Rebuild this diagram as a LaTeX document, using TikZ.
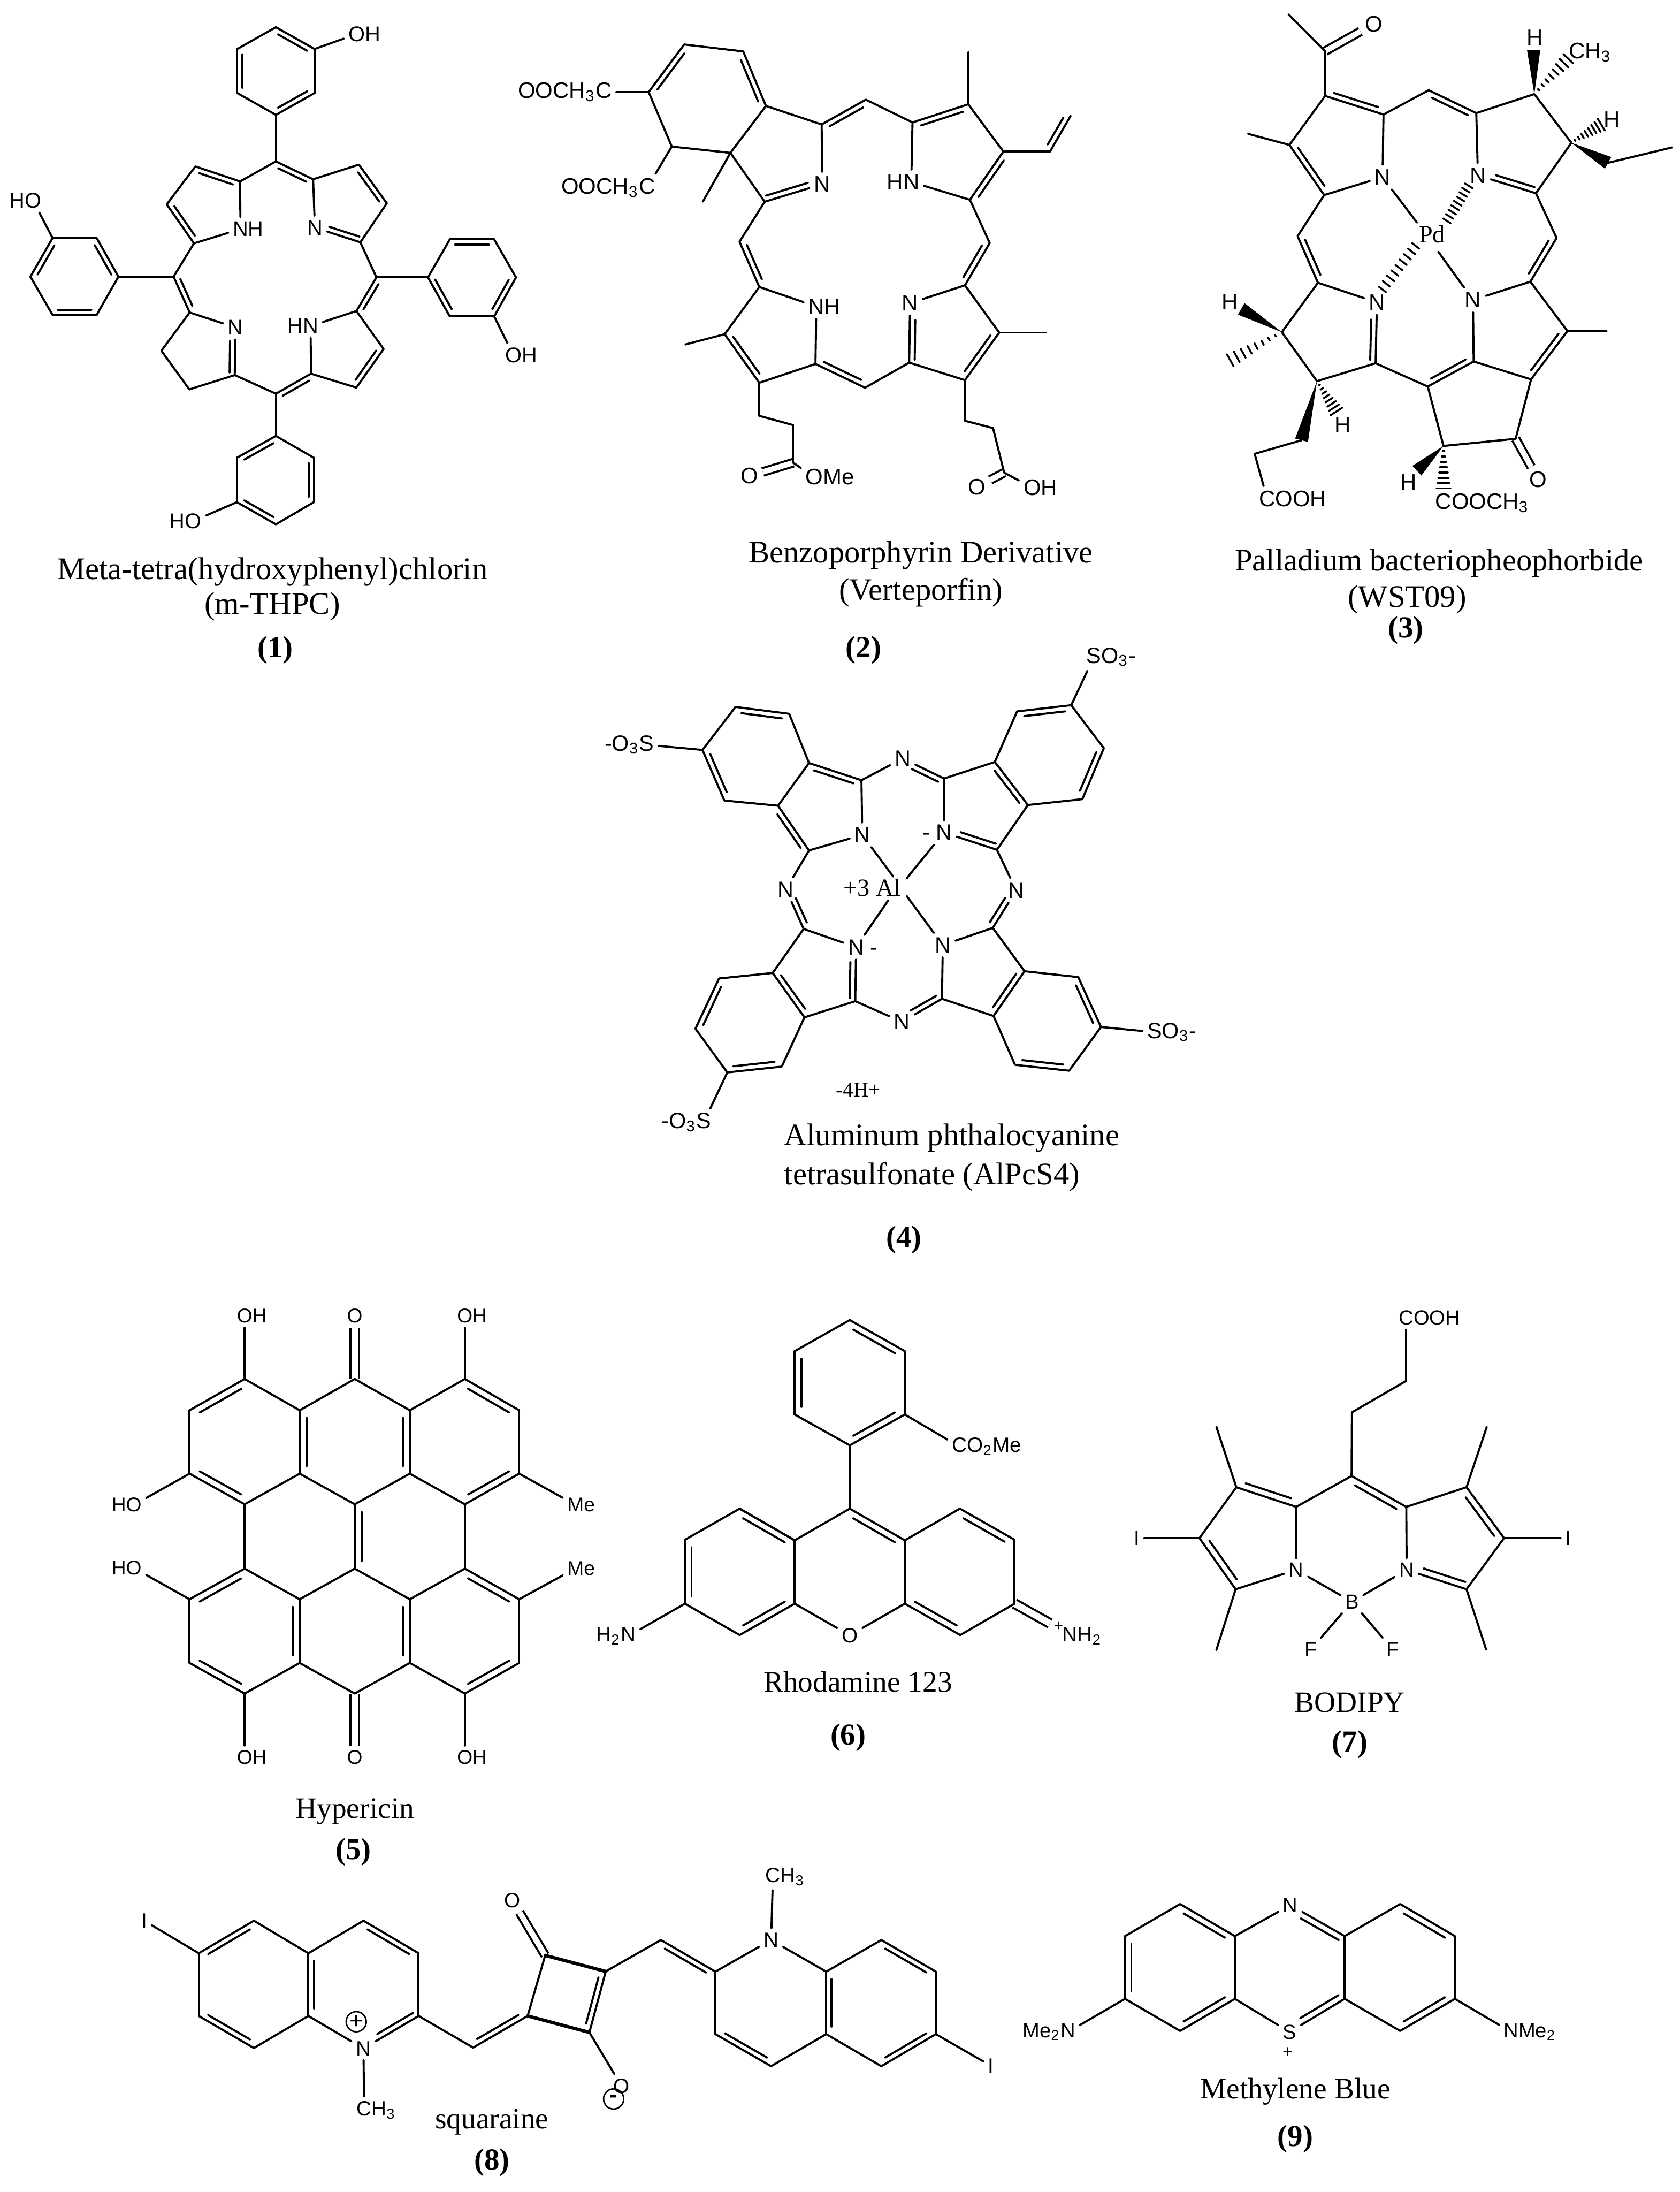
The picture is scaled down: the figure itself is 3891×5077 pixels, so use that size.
\documentclass[tikz,border=0pt]{standalone}
\usepackage{fontspec}
\setmainfont{Liberation Serif}
\setsansfont{Liberation Sans}
\usetikzlibrary{calc}

\def\dgap{1.9pt}
\def\atomfs{7.4}
\def\wdg{2.3pt}
\newcommand{\sbs}[1]{\textsubscript{#1}}
\tikzset{
  crop/.style n args={4}{shift={(#1,#2)},x=0.15pt*#3/1568,y=-0.15pt*#4/1568},
  bond/.style={line width=0.72pt,line cap=round,line join=round},
  boldbond/.style={line width=1.15pt,line cap=round},
  hashbond/.style={line width=0.65pt,line cap=round},
  dbond/.style={line width=0.72pt,double,double distance=1.9pt},
  atom/.style={inner sep=1.4pt,font=\sffamily\fontsize{\atomfs}{9}\selectfont},
  metal/.style={inner sep=1pt,font=\fontsize{8.6}{10}\selectfont},
  chargering/.style={circle,draw,line width=0.5pt,inner sep=0pt,minimum size=7pt,font=\sffamily\fontsize{8}{8}\selectfont},
  captxt/.style={inner sep=0pt,font=\fontsize{10.9}{12}\selectfont},
  capsm/.style={inner sep=0pt,font=\fontsize{10.3}{12}\selectfont},
  capnum/.style={inner sep=0pt,font=\fontsize{10.6}{12}\selectfont\bfseries}
}
\newcommand{\atoms}[1]{\foreach \n/\x/\y in {#1} {\coordinate (\n) at (\x,\y);}}
\newcommand{\bonds}[1]{\foreach \p/\q in {#1} {\draw[bond] (\p) -- (\q);}}
\NewDocumentCommand{\dbl}{O{.12} O{.12} m m}{%
  \draw[bond] (#3) -- (#4);
  \draw[bond] ($(#3)!#1!(#4)!\dgap!-90:(#4)$) -- ($(#4)!#2!(#3)!\dgap!90:(#3)$);
}
\newcommand{\dbls}[1]{\foreach \p/\q in {#1} {\dbl{\p}{\q}}}
\newcommand{\wedgeb}[2]{\fill (#1) -- ($(#2)!\wdg!90:(#1)$) -- ($(#2)!\wdg!-90:(#1)$) -- cycle;}
\newcommand{\hashb}[2]{\foreach \t in {1,...,8} {\draw[hashbond] ($(#1)!\t/8.5!(#2)!\t*.3pt!90:(#2)$) -- ($(#1)!\t/8.5!(#2)!\t*.3pt!-90:(#2)$);}}
\newcommand{\hashc}[2]{\foreach \t in {0,...,8} {\draw[hashbond] ($(#1)!\t/8.5!(#2)!1.6pt!90:(#2)$) -- ($(#1)!\t/8.5!(#2)!1.6pt!-90:(#2)$);}}

\begin{document}
\begin{tikzpicture}[x=0.15pt,y=-0.15pt]
\useasboundingbox (0,0) rectangle (3891,5077);

% m-THPC
\begin{scope}[crop={0}{0}{1300}{1300}]
\def\dgap{1.8pt}
\atoms{m1/771/451,m2/1052/775,m3/771/1100,m4/485/773,
  a1/671/507,a2/546/465,a3/466/571,a4/542/680,
  b1/875/501,b2/1003/460,b3/1081/568,b4/1007/677,
  c1/996/869,c2/1072/975,c3/996/1083,c4/869/1044,
  d1/530/873,d2/451/980,d3/529/1088,d4/656/1048,
  p1/771/321,p2/879/260,p3/879/137,p4/771/76,p5/663/137,p6/663/260,
  q1/331/773,q2/270/880,q3/147/880,q4/85/773,q5/147/665,q6/270/665,
  r1/1196/775,r2/1257/669,r3/1381/669,r4/1442/775,r5/1381/884,r6/1257/884,
  s1/771/1218,s2/877/1279,s3/877/1403,s4/771/1465,s5/662/1403,s6/662/1279}
\node[atom] (na) at (672,640) {N\rlap{H}};
\node[atom] (nb) at (880,636) {N};
\node[atom] (nc) at (868,911) {\llap{H}N};
\node[atom] (nd) at (658,915) {N};
\node[atom] (oa) at (997,95) {O\rlap{H}};
\node[atom] (ob) at (92,560) {\llap{H}O};
\node[atom] (oc) at (1435,993) {O\rlap{H}};
\node[atom] (od) at (540,1456) {\llap{H}O};
\bonds{m1/a1,a2/a3,a4/na,na/a1,b1/b2,b3/b4,nb/b1,b4/m2,c1/c2,c3/c4,c4/nc,nc/c1,
  m4/a4,d1/nd,d1/d2,d2/d3,d3/d4,d4/m3,m1/p1,m4/q1,m2/r1,m3/s1,
  p3/oa,q5/ob,r5/oc,s5/od,p3/p2,p1/p6,p5/p4,q1/q2,q3/q4,q5/q6,r1/r2,r3/r4,r5/r6,
  s1/s2,s3/s4,s5/s6}
\dbls{m1/b1,a2/a1,a4/a3,b2/b3,c1/m2,d1/m4,m3/c4,c2/c3,
  p4/p3,p2/p1,p6/p5,q2/q3,q4/q5,q6/q1,r2/r3,r4/r5,r6/r1,s2/s3,s4/s5,s6/s1}
\dbl[.05][.28]{b4}{nb}
\dbl[.28][.05]{nd}{d4}
\end{scope}

% Verteporfin
\begin{scope}[crop={1100}{100}{1500}{1200}]
\def\atomfs{7.8}
\atoms{e1/421/148,e2/507/4,e3/650/25,e4/705/190,e5/619/332,e6/477/313,
  f1/840/246,f2/702/480,g1/947/171,h1/1060/240,h2/1195/185,h3/1280/328,h4/1199/474,
  v1/1393/328,v2/1443/220,i1/1247/605,j1/1187/733,j2/1270/876,j3/1187/1020,
  k1/1052/967,l1/945/1043,n1/825/971,o1/689/1028,o2/689/738,o3/605/881,p1/641/601,
  z1/552/480,z2/1195/28,z3/1382/876,z4/510/912,
  s1/689/1128,s2/771/1156,s3/771/1270,t1/1187/1143,t2/1255/1165,t3/1282/1300}
\node[atom] (ca) at (312,148) {\llap{OOCH\sbs{3}}C};
\node[atom] (cb) at (417,438) {\llap{OOCH\sbs{3}}C};
\node[atom] (na) at (841,427) {N};
\node[atom] (nb) at (1057,420) {\llap{H}N};
\node[atom] (nc) at (827,797) {N\rlap{H}};
\node[atom] (nd) at (1054,787) {N};
\node[atom] (oa) at (665,1310) {O};
\node[atom] (ob) at (822,1313) {O\rlap{Me}};
\node[atom] (oc) at (1216,1343) {O};
\node[atom] (od) at (1350,1345) {O\rlap{H}};
\draw[dbond] (s3) -- (oa);
\draw[dbond] (t3) -- (oc);
\bonds{e2/e3,e4/e5,e5/e6,e6/e1,e1/ca,e6/cb,e4/f1,f1/na,e5/f2,e5/z1,g1/h1,h2/z2,h2/h3,h3/v1,
  h4/nb,nb/h1,h4/i1,j1/nd,j1/j2,j2/z3,j3/k1,k1/l1,n1/nc,nc/o2,n1/o1,o3/o2,o3/z4,p1/f2,
  o1/s1,s1/s2,s2/s3,s3/ob,j3/t1,t1/t2,t2/t3,t3/od}
\dbls{e1/e2,e3/e4,f1/g1,h1/h2,h4/h3,v2/v1,i1/j1,j2/j3,l1/n1,o1/o3,o2/p1}
\dbl[.22][.05]{na}{f2}
\dbl[.05][.28]{k1}{nd}
\end{scope}

% WST09
\begin{scope}[crop={2700}{0}{1191}{1300}]
\def\atomfs{7.8}
\atoms{t1/487/143,t2/487/268,t3/378/405,t4/484/545,t5/665/320,u1/803/252,v1/948/316,
  v2/1130/540,v3/1125/263,v4/1238/399,w1/1193/665,x1/1113/787,x2/940/1010,x3/1226/925,x4/1115/1060,
  y1/800/1080,z1/641/1015,aa/465/790,bb/403/660,cc/355/928,dd/462/1065,ee/848/1246,ff/1068/1226,
  ma/375/40,mb/252/374,mc/1345/925,eta/1350/455,etb/1545/412,
  wa/1123/140,wb/231/863,wc/415/1230,wd/767/1315,
  ha/1235/158,hb/1335/345,hc/188/1012,hd/525/1155,he/848/1372,
  pda/767/622,pdb/832/703,pdc/763/687,pdd/858/617,nde/655/816,nbe/929/513,
  ca/272/1268}
\node[metal] (pd) at (813,655) {Pd};
\node[atom] (na) at (662,495) {N};
\node[atom] (nb) at (953,490) {N};
\node[atom] (nc) at (938,838) {N};
\node[atom] (nd) at (645,845) {N};
\node[atom] (oa) at (635,67) {O};
\node[atom] (ob) at (1137,1340) {O};
\node[atom] (ha1) at (1127,105) {H};
\node[atom] (hb1) at (1362,333) {H};
\node[atom] (hc1) at (197,843) {H};
\node[atom] (hd1) at (540,1187) {H};
\node[atom] (he1) at (742,1347) {H};
\node[atom] (cha) at (1255,147) {C\rlap{H\sbs{3}}};
\node[atom] (cooh) at (310,1393) {C\rlap{OOH}};
\node[atom] (cooc) at (848,1405) {C\rlap{OOCH\sbs{3}}};
\draw[dbond] (t1) -- (oa);
\draw[dbond] (ff) -- (ob);
\bonds{ma/t1,t1/t2,t2/t3,t3/mb,t4/na,na/t5,na/pda,t5/u1,v1/nb,v1/v3,v3/v4,v4/v2,v2/w1,x1/nc,nc/pdb,nc/x2,
  x1/x3,x3/mc,x4/x2,y1/z1,nd/aa,aa/cc,cc/dd,dd/z1,bb/t4,y1/ee,ee/ff,ff/x4,eta/etb,wc/ca,ca/cooh}
\dbls{t5/t2,t4/t3,u1/v1,w1/x1,x3/x4,x2/y1,aa/bb}
\dbl[.05][.28]{v2}{nb}
\dbl[.28][.05]{nd}{z1}
\wedgeb{v3}{wa}
\wedgeb{v4}{eta}
\wedgeb{cc}{wb}
\wedgeb{dd}{wc}
\wedgeb{ee}{wd}
\hashb{v3}{ha}
\hashb{v4}{hb}
\hashb{cc}{hc}
\hashb{dd}{hd}
\hashb{ee}{he}
\hashc{pdc}{nde}
\hashc{pdd}{nbe}
\end{scope}

% AlPcS4
\begin{scope}[crop={1350}{1450}{1500}{1250}]
\def\atomfs{7.7}
\atoms{g1/290/360,g2/370/235,g3/500/255,g4/548/398,g5/473/522,g6/343/507,
  h1/675/448,h2/548/652,h3/535/880,
  i1/875/443,i2/998/395,i3/1078/520,i4/1003/650,i5/1052/248,i6/1183/230,i7/1262/355,i8/1210/503,
  j1/993/877,j2/870/1083,j3/1070/1003,j4/995/1133,j5/1200/1020,j6/1255/1165,j7/1178/1292,j8/1047/1275,
  k1/660/1090,k2/460/1008,k3/537/1137,k4/330/1024,k5/273/1170,k6/350/1297,k7/482/1280,
  ala/752/728,alb/785/732,alc/740/797,ald/785/785}
\node[metal] (al) at (740,760) {\llap{+3 }Al};
\node[atom] (na) at (677,607) {N};
\node[atom] (nb) at (775,385) {N};
\node[atom] (nc) at (875,600) {\llap{- }N};
\node[atom] (nd) at (1050,768) {N};
\node[atom] (ne) at (872,927) {N};
\node[atom] (nf) at (773,1150) {N};
\node[atom] (ng) at (662,933) {N\rlap{ -}};
\node[atom] (nh) at (492,765) {N};
\node[atom] (sa) at (155,345) {\llap{-O\sbs{3}}S};
\node[atom] (sb) at (1238,90) {S\rlap{O\sbs{3}-}};
\node[atom] (sc) at (1385,1180) {S\rlap{O\sbs{3}-}};
\node[atom] (sd) at (293,1442) {\llap{-O\sbs{3}}S};
\node[captxt,font=\fontsize{7.3}{9}\selectfont] (hh) at (667,1348) {-4H+};
\bonds{g1/sa,g1/g2,g3/g4,g4/g5,g6/g5,h1/na,na/h2,na/ala,h2/nh,h1/nb,i1/nc,i1/i2,i3/i4,i2/i5,i6/i7,i8/i3,
  i6/sb,nc/alb,i4/nd,j1/ne,ne/ald,ne/j2,j1/j3,j2/j4,nf/k1,ng/h3,ng/alc,h3/k2,k3/k1,k2/k4,k5/k6,k7/k3,
  k6/sd,j3/j5,j6/j7,j8/j4,j6/sc}
\dbls{g2/g3,g6/g1,g4/h1,g5/h2,i2/i3,i5/i6,i7/i8,j3/j4,k3/k2,k7/k6,k5/k4,j5/j6,j7/j8}
\dbl[.1][.28]{h3}{nh}
\dbl[.28][.08]{nb}{i1}
\dbl[.05][.28]{i4}{nc}
\dbl[.28][.08]{nd}{j1}
\dbl[.08][.28]{j2}{nf}
\dbl[.28][.05]{ng}{k1}
\end{scope}

% Hypericin
\begin{scope}[crop={200}{2950}{1250}{1250}]
\def\dgap{2.4pt}
\def\atomfs{6.9}
\atoms{ua/460/306,ub/300/397,uc/300/581,ud/460/670,ue/620/581,uf/620/397,ug/780/306,uh/940/397,
  ui/1100/306,uj/1258/397,uk/1258/581,ul/1100/670,um/940/581,un/780/670,
  la/460/857,lb/300/946,lc/300/1131,ld/460/1220,le/620/1131,lf/620/946,lg/780/857,lh/940/946,
  li/1100/857,lj/1258/946,lk/1258/1131,ll/1100/1220,lm/940/1131,ln/780/1220}
\node[atom] (oa) at (460,123) {O\rlap{H}};
\node[atom] (ob) at (780,123) {O};
\node[atom] (oc) at (1100,123) {O\rlap{H}};
\node[atom] (od) at (138,672) {\llap{H}O};
\node[atom] (oe) at (138,855) {\llap{H}O};
\node[atom] (of) at (460,1405) {O\rlap{H}};
\node[atom] (og) at (780,1405) {O};
\node[atom] (oh) at (1100,1405) {O\rlap{H}};
\node[atom] (ma) at (1422,672) {M\rlap{e}};
\node[atom] (mb) at (1422,856) {M\rlap{e}};
\draw[dbond,double distance=2.4pt] (ug) -- (ob);
\draw[dbond,double distance=2.4pt] (ln) -- (og);
\bonds{ua/uf,uf/ug,ug/uh,uh/ui,uj/uk,ul/um,um/un,un/ue,ue/ud,uc/ub,ud/la,ul/li,la/lf,lf/lg,lg/lh,lh/li,
  lj/lk,ll/lm,lm/ln,ln/le,le/ld,lc/lb,ua/oa,ui/oc,uc/od,lb/oe,ld/of,ll/oh,uk/ma,lj/mb}
\dbls{ub/ua,ud/uc,ue/uf,uh/um,ui/uj,uk/ul,lg/un,lb/la,ld/lc,lf/le,lh/lm,li/lj,lk/ll}
\end{scope}

% Rhodamine 123
\begin{scope}[crop={1350}{3000}{1250}{1000}]
\def\dgap{2.3pt}
\def\atomfs{7.2}
\atoms{p1/776/545,p2/936/433,p3/936/203,p4/776/90,p5/616/203,p6/616/433,q1/776/775,
  r1/936/890,r2/1096/775,r3/1255/888,r4/1255/1120,r5/1097/1234,r6/936/1120,
  l1/616/890,l2/456/775,l3/297/888,l4/297/1120,l5/456/1234,l6/616/1120,zn/1358/1192}
\node[atom] (co) at (1095,550) {C\rlap{O\sbs{2}Me}};
\node[atom] (oa) at (776,1235) {O};
\node[atom] (na) at (132,1238) {\llap{H\sbs{2}}N};
\node[atom] (nb) at (1416,1238) {N\rlap{H\sbs{2}}};
\node[atom,font=\sffamily\fontsize{5.5}{6}\selectfont,inner sep=0pt] (plus) at (1383,1203) {+};
\draw[dbond,double distance=2.3pt] (r4) -- (zn);
\bonds{p3/p2,p1/p6,p5/p4,p2/co,p1/q1,q1/l1,l1/l2,l3/l2,l4/l5,l6/l1,l6/oa,oa/r6,r6/r1,r1/r2,r3/r4,r4/r5,l4/na}
\dbls{p4/p3,p2/p1,p6/p5,q1/r1,r2/r3,r5/r6,l2/l1,l4/l3,l6/l5}
\end{scope}

% BODIPY
\begin{scope}[crop={2550}{3000}{1250}{1050}]
\def\dgap{2.3pt}
\def\atomfs{7.1}
\atoms{a1/888/296,b1/730/405,c1/729/625,d1/568/732,e1/888/732,f1/394/664,g1/287/840,h1/392/1017,
  i1/1063/664,j1/1172/840,k1/1063/1017,ma/336/455,mb/336/1227,mc/1122/455,md/1120/1225}
\node[atom] (cooh) at (888,78) {C\rlap{OOH}};
\node[atom] (na) at (568,950) {N};
\node[atom] (nb) at (889,950) {N};
\node[atom] (bo) at (730,1060) {B};
\node[atom] (fa) at (611,1225) {F};
\node[atom] (fb) at (848,1225) {F};
\node[atom] (ia) at (105,840) {I};
\node[atom] (ib) at (1358,840) {I};
\bonds{cooh/a1,a1/b1,b1/c1,c1/d1,f1/g1,h1/na,na/d1,f1/ma,h1/mb,g1/ia,e1/i1,j1/k1,nb/e1,i1/mc,k1/md,j1/ib,
  na/bo,nb/bo,bo/fa,bo/fb}
\dbls{c1/e1,d1/f1,h1/g1,i1/j1}
\dbl[.05][.25]{k1}{nb}
\end{scope}

% squaraine
\begin{scope}[crop={250}{4300}{2200}{777}]
\def\atomfs{7.2}
\atoms{a1/150/452,a2/241/300,a3/331/452,a4/331/745,a5/241/895,a6/150/745,b1/422/300,b2/513/452,b3/513/745,
  c1/603/893,c2/693/745,s1/722/462,s2/822/537,s3/795/822,t1/913/390,t2/1003/538,t3/1003/830,t4/1095/980,
  r1/1186/830,r2/1186/538,u1/1277/390,u2/1367/538,u3/1367/830,u4/1277/980}
\node[atom] (ia) at (60,300) {I};
\node[atom] (ib) at (1458,978) {I};
\node[atom] (na) at (422,897) {N};
\node[atom] (nb) at (1095,390) {N};
\node[atom] (cha) at (423,1185) {C\rlap{H\sbs{3}}};
\node[atom] (chb) at (1098,95) {C\rlap{H\sbs{3}}};
\node[atom] (oa) at (668,205) {O};
\node[atom] (ob) at (848,1072) {O};
\node[chargering] (pl) at (410,772) {+};
\node[chargering] (mi) at (835,1133) {\textbf{-}};
\draw[dbond] (s1) -- (oa);
\bonds{a1/ia,a2/a3,a4/a5,a6/a1,a3/b1,b2/b3,na/a4,na/cha,b3/c1,c2/s1,s3/ob,s2/t1,t2/nb,nb/chb,t2/t3,t4/r1,
  nb/r2,r2/u1,u2/u3,u4/r1,u3/ib}
\draw[boldbond] (s1) -- (s2);
\draw[boldbond] (s3) -- (c2);
\dbls{a1/a2,a4/a3,a5/a6,b1/b2,c2/c1,s2/s3,t1/t2,t4/t3,r1/r2,u1/u2,u3/u4}
\dbl[.05][.3]{b3}{na}
\end{scope}

% Methylene Blue
\begin{scope}[crop={2300}{4300}{1400}{777}]
\def\dgap{2.2pt}
\def\atomfs{7.1}
\atoms{a1/343/372,a2/486/222,a3/628/372,a4/628/665,a5/486/815,a6/343/665,
  b1/1199/372,b2/1057/222,b3/913/372,b4/913/665,b5/1057/815,b6/1199/665}
\node[atom] (na) at (772,227) {N};
\node[atom] (sa) at (770,820) {S};
\node[atom] (nb) at (195,820) {\llap{Me\sbs{2}}N};
\node[atom] (nc) at (1345,820) {N\rlap{Me\sbs{2}}};
\node[atom,font=\sffamily\fontsize{6}{7}\selectfont] (pl) at (765,915) {+};
\bonds{a1/a2,a3/a4,a5/a6,a3/na,a4/sa,b3/b4,b3/b2,b1/b6,b5/b4,a6/nb,b6/nc}
\dbls{a2/a3,a4/a5,a6/a1,b2/b1,b6/b5}
\dbl[.25][.05]{na}{b3}
\dbl[.05][.25]{b4}{sa}
\end{scope}

% Etiquetas
\begin{scope}[x=0.15pt*3891/1202,y=-0.15pt*5077/1568]
\node[captxt] (ca) at (195,409) {Meta-tetra(hydroxyphenyl)chlorin};
\node[captxt] (cb) at (195,434) {(m-THPC)};
\node[capnum] (na) at (197,465) {(1)};
\node[captxt] (cc) at (659,397) {Benzoporphyrin Derivative};
\node[captxt] (cd) at (659,424) {(Verteporfin)};
\node[capnum] (nb) at (618,465) {(2)};
\node[captxt] (ce) at (1030,403) {Palladium bacteriopheophorbide};
\node[captxt] (cf) at (1007,429) {(WST09)};
\node[capnum] (nc) at (1006,451) {(3)};
\node[captxt] (cg) at (681,814) {Aluminum phthalocyanine};
\node[captxt] (ch) at (667,842) {tetrasulfonate (AlPcS4)};
\node[capnum] (nd) at (647,887) {(4)};
\node[capsm] (ci) at (254,1296) {Hypericin};
\node[capnum] (ne) at (253,1325) {(5)};
\node[capsm] (cj) at (614,1203) {Rhodamine 123};
\node[capnum] (nf) at (607,1243) {(6)};
\node[capsm] (ck) at (966,1218) {BODIPY};
\node[capnum] (ng) at (966,1248) {(7)};
\node[capsm] (cl) at (352,1518) {squaraine};
\node[capnum] (nh) at (352,1547) {(8)};
\node[capsm] (cm) at (927,1496) {Methylene Blue};
\node[capnum] (ni) at (927,1530) {(9)};
\end{scope}
\end{tikzpicture}
\end{document}
